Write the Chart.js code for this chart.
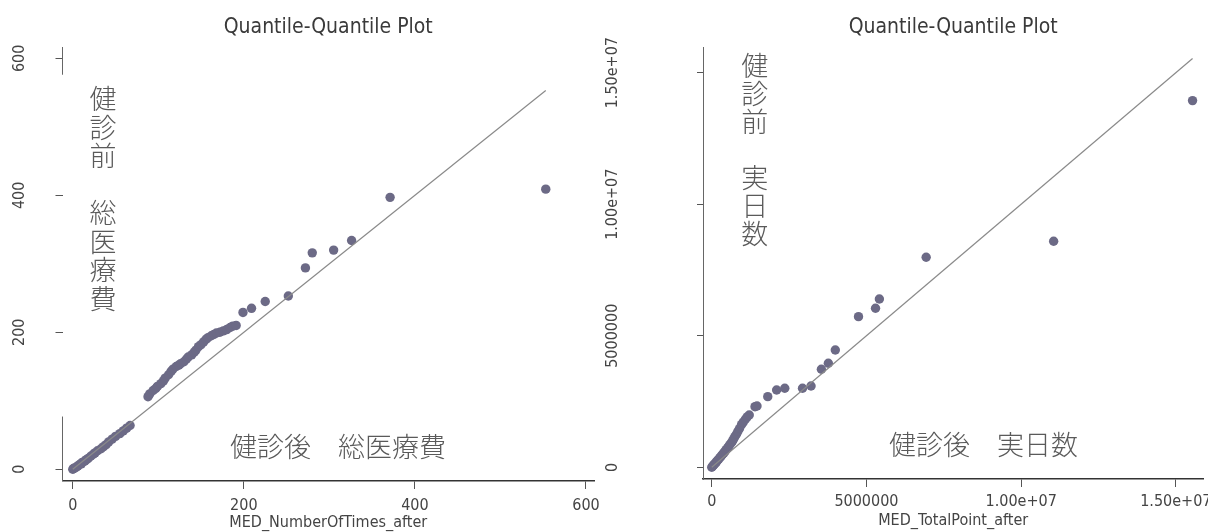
<!DOCTYPE html>
<html lang="ja">
<head>
<meta charset="UTF-8">
<title>Quantile-Quantile Plot</title>
<script src="https://cdn.jsdelivr.net/npm/chart.js"></script>
<style>
  body { margin: 0; background: #fff; }
  .panel { position: absolute; top: 0; width: 604px; height: 532px; }
  #leftPanel { left: 0; }
  #rightPanel { left: 604px; }
</style>
</head>
<body>
<div class="panel" id="leftPanel"><canvas id="leftChart"></canvas></div>
<div class="panel" id="rightPanel"><canvas id="rightChart"></canvas></div>
<script>
const plotTitle = 'Quantile-Quantile Plot';

// 総医療費 (left)
const leftXTitle = 'MED_NumberOfTimes_after';
const leftTicks = [0, 200, 400, 600];
const leftAfter = [0, 1, 2, 4, 6, 8, 10, 11, 14, 16, 18, 21, 24, 26, 29, 33, 36, 39, 42, 46, 50, 55, 59, 63, 67,
  88, 90, 94, 97, 99, 103, 106, 108, 112, 115, 117, 121, 124, 126, 130, 133, 135, 139, 142, 144, 147, 150, 153,
  156, 158, 162, 165, 168, 172, 176, 180, 184, 187, 191, 199, 209, 225, 252, 272, 280, 305, 326, 371, 553];
const leftBefore = [0, 1, 2, 3, 5, 7, 8, 10, 12, 14, 16, 19, 22, 24, 27, 30, 33, 36, 40, 44, 48, 52, 56, 60, 64,
  106, 110, 115, 118, 121, 125, 129, 133, 138, 143, 146, 150, 152, 154, 157, 161, 164, 167, 171, 174, 179, 182, 186,
  190, 192, 195, 197, 199, 200, 202, 204, 207, 209, 210, 229, 235, 245, 253, 294, 316, 320, 334, 397, 409];
const leftBeforeLabel = '健診前　総医療費';
const leftAfterLabel = '健診後　総医療費';

// 実日数 (right)
const rightXTitle = 'MED_TotalPoint_after';
const rightTicks = [0, 5000000, 10000000, 15000000];
const rightTickLabels = ['0', '5000000', '1.00e+07', '1.50e+07'];
const rightAfter = [0, 25000, 58000, 86000, 118000, 152000, 186000, 229000, 268000, 305000, 348000, 392000, 427000,
  468000, 514000, 551000, 588000, 634000, 672000, 709000, 748000, 803000, 846000, 897000, 962000, 1018000, 1087000,
  1146000, 1212000, 1398000, 1463000, 1810000, 2097000, 2360000, 2933000, 3209000, 3543000, 3768000, 3993000,
  4743000, 5293000, 5418000, 6930000, 11050000, 15540000];
const rightBefore = [0, 38000, 84000, 118000, 163000, 208000, 262000, 314000, 372000, 428000, 493000, 548000, 607000,
  672000, 741000, 797000, 868000, 935000, 1004000, 1082000, 1168000, 1266000, 1372000, 1473000, 1620000, 1716000,
  1825000, 1918000, 1989000, 2304000, 2331000, 2685000, 2940000, 3004000, 3004000, 3091000, 3726000, 3954000,
  4460000, 5726000, 6046000, 6399000, 7985000, 8593000, 13940000];
const rightBeforeLabel = '健診前　実日数';
const rightAfterLabel = '健診後　実日数';

const narrow = "'Liberation Sans Narrow', 'Arial Narrow', 'DejaVu Sans Condensed', sans-serif";
const cjk = "'Noto Sans CJK JP', 'Noto Sans CJK SC', sans-serif";

// text() annotations and broken axis pieces, placed in data units
const qqText = {
  id: 'qqText',
  afterDatasetsDraw(chart, args, opts) {
    const { ctx, chartArea, scales: { x, y } } = chart;
    ctx.save();
    ctx.strokeStyle = '#666';
    ctx.lineWidth = 1;
    (opts.axisSegments || []).forEach(([a, b]) => {
      ctx.beginPath();
      ctx.moveTo(chartArea.left, y.getPixelForValue(a));
      ctx.lineTo(chartArea.left, y.getPixelForValue(b));
      ctx.stroke();
    });
    ctx.fillStyle = '#5a5a5a';
    ctx.font = `300 ${opts.size}px ${cjk}`;
    ctx.textAlign = 'center';
    ctx.textBaseline = 'middle';
    opts.items.forEach(it => {
      const px = x.getPixelForValue(it.x), py = y.getPixelForValue(it.y);
      if (it.vertical) {
        [...it.text].forEach((ch, i) => ctx.fillText(ch, px, py + i * opts.step));
      } else {
        ctx.fillText(it.text, px, py);
      }
    });
    ctx.restore();
  }
};

function qqChart(id, cfg) {
  const pts = cfg.after.map((v, i) => ({ x: v, y: cfg.before[i] }));
  const lo = Math.min(...cfg.after), hi = Math.max(...cfg.after);
  const tickFont = { family: narrow, size: 16 };
  return new Chart(document.getElementById(id), {
    type: 'scatter',
    data: {
      datasets: [
        { type: 'line', data: [{ x: lo, y: lo }, { x: hi, y: hi }], borderColor: '#8a8a8a', borderWidth: 1.2,
          pointRadius: 0, fill: false },
        { data: pts, backgroundColor: '#6c6a86', borderWidth: 0, pointRadius: 4.7 }
      ]
    },
    plugins: [qqText],
    options: {
      responsive: true,
      maintainAspectRatio: false,
      animation: false,
      layout: { padding: { left: 0, right: cfg.padRight, top: 0, bottom: 0 } },
      plugins: {
        legend: { display: false },
        tooltip: { enabled: false },
        title: { display: true, text: plotTitle, fullSize: false, color: '#3a3a3a',
          font: { family: narrow, size: 21, weight: 'normal', lineHeight: 1.2 }, padding: { top: 15, bottom: 6.8 } },
        qqText: cfg.text
      },
      scales: {
        x: {
          type: 'linear', min: cfg.xMin, max: cfg.xMax,
          afterBuildTicks: s => { s.ticks = cfg.xTicks.map(v => ({ value: v })); },
          afterFit: s => { s.height = cfg.xHeight; s.paddingLeft = 0; s.paddingRight = 0; },
          ticks: { font: tickFont, color: '#444', padding: cfg.xPad, maxRotation: 0,
            callback: v => cfg.xLabels[cfg.xTicks.indexOf(v)] },
          grid: { drawOnChartArea: false, tickLength: 8, color: '#555' },
          border: { color: '#333', width: 1.5 },
          title: { display: true, text: cfg.xTitle, color: '#444',
            font: { family: narrow, size: 16, lineHeight: 1 }, padding: { top: 0, bottom: cfg.titlePad } }
        },
        y: {
          type: 'linear', min: cfg.yMin, max: cfg.yMax,
          afterBuildTicks: s => { s.ticks = cfg.yTicks.map(v => ({ value: v })); },
          afterFit: s => { s.width = cfg.yWidth; s.paddingTop = 0; s.paddingBottom = 0; },
          ticks: { font: tickFont, color: '#444', minRotation: 90, maxRotation: 90, crossAlign: 'center',
            padding: cfg.yPad, callback: v => cfg.yLabels[cfg.yTicks.indexOf(v)] },
          grid: { drawOnChartArea: false, tickLength: cfg.yTick, color: '#555' },
          border: { display: cfg.yBorder, color: '#666', width: 1 }
        }
      }
    }
  });
}

qqChart('leftChart', {
  after: leftAfter, before: leftBefore, xTitle: leftXTitle,
  xTicks: leftTicks, xLabels: leftTicks.map(String), yTicks: leftTicks, yLabels: leftTicks.map(String),
  xMin: -12, xMax: 609.4, yMin: -17.1, yMax: 616.5,
  padRight: 10, xHeight: 51, xPad: 7, titlePad: 1, yWidth: 62.5, yPad: 22, yTick: 7, yBorder: false,
  text: {
    size: 27, step: 28.5, axisSegments: [[-17.1, 77], [576, 616.5]],
    items: [
      { text: leftBeforeLabel, x: 35.3, y: 540.6, vertical: true },
      { text: leftAfterLabel, x: 310, y: 32.5 }
    ]
  }
});

qqChart('rightChart', {
  after: rightAfter, before: rightBefore, xTitle: rightXTitle,
  xTicks: rightTicks, xLabels: rightTickLabels, yTicks: rightTicks, yLabels: rightTickLabels,
  xMin: -282900, xMax: 15887300, yMin: -444800, yMax: 15976900,
  padRight: 2, xHeight: 53, xPad: 5, titlePad: 3, yWidth: 99, yPad: 49, yTick: 6, yBorder: true,
  text: {
    size: 27, step: 28,
    items: [
      { text: rightBeforeLabel, x: 1390000, y: 15250000, vertical: true },
      { text: rightAfterLabel, x: 8780000, y: 850000 }
    ]
  }
});
</script>
</body>
</html>
